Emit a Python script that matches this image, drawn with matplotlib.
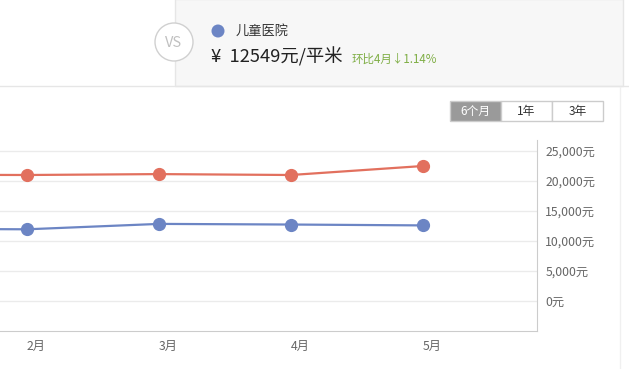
import matplotlib
matplotlib.use('Agg')
import matplotlib.pyplot as plt
from matplotlib.patches import Rectangle, Circle

plt.rcParams['font.family'] = ['Noto Sans CJK SC', 'DejaVu Sans']

# данные
months = ['1月', '2月', '3月', '4月', '5月']
red_vals = [21000, 20950, 21100, 20950, 22450]
blue_vals = [12000, 11900, 12800, 12694, 12549]
y_ticks = [0, 5000, 10000, 15000, 20000, 25000]
periods = ['6个月', '1年', '3年']

W, H = 629, 369
fig = plt.figure(figsize=(W / 100, H / 100), dpi=100)
fig.patch.set_facecolor('white')

# фоновая ось в пикселях для шапки и кнопок
bg = fig.add_axes([0, 0, 1, 1])
bg.set_xlim(0, W)
bg.set_ylim(H, 0)
bg.axis('off')

# серая шапка
bg.add_patch(Rectangle((175, -1), 448, 87, facecolor='#f7f7f7', edgecolor='#e6e6e6', lw=1))
bg.plot([0, W], [86, 86], color='#e6e6e6', lw=1)
bg.plot([620, 620], [87, H], color='#f0f0f0', lw=1)

# кружок VS
bg.add_patch(Circle((174, 42), 19, facecolor='white', edgecolor='#d0d0d0', lw=1))
bg.text(174, 43, 'VS', color='#c0c0c0', fontsize=10.5, ha='center', va='center')

# легенда синей серии
bg.add_patch(Circle((218, 31), 6.5, facecolor='#6c85c4', edgecolor='none'))
bg.text(236, 31, '儿童医院', color='#333333', fontsize=9.5, ha='left', va='center')
bg.text(211, 57, '¥  12549元/平米', color='#222222', fontsize=13.2, ha='left', va='center')
bg.text(352, 59, '环比4月↓1.14%', color='#7fae45', fontsize=8.3, ha='left', va='center')

# переключатель периода
x0 = 450
for i, p in enumerate(periods):
    w = 51
    active = i == 0
    bg.add_patch(Rectangle((x0 + i * w, 100.5), w, 20.5,
                           facecolor='#9a9a9a' if active else 'white',
                           edgecolor='#cccccc', lw=1))
    bg.text(x0 + i * w + w / 2, 111, p, color='white' if active else '#333333',
            fontsize=8.5, ha='center', va='center')

# график
top, bottom, right = 140, 330.7, 537
ax = fig.add_axes([0, 1 - bottom / H, right / W, (bottom - top) / H])
ax.set_facecolor('none')
x = list(range(len(months)))
ax.plot(x, red_vals, color='#e2705e', lw=1.6, marker='o', markersize=8.5, zorder=3)
ax.plot(x, blue_vals, color='#6c85c4', lw=1.6, marker='o', markersize=8.5, zorder=3)

ax.set_yticks(y_ticks)
ax.set_yticklabels([f'{v:,}元' for v in y_ticks])
ax.yaxis.tick_right()
ax.tick_params(axis='y', length=0, pad=6, labelsize=8.8, labelcolor='#666666')
for lbl in ax.get_yticklabels():
    lbl.set_horizontalalignment('left')
ax.grid(axis='y', color='#ebebeb', lw=1)
ax.set_axisbelow(True)

ax.set_xticks(x)
ax.set_xticklabels(months)
ax.tick_params(axis='x', length=0, pad=7, labelsize=8.8, labelcolor='#666666')
for lbl in ax.get_xticklabels():
    lbl.set_horizontalalignment('left')

# пределы после тиков, иначе set_xticks их раздвигает
ax.set_xlim(1 - 27 / 132, 1 + 510 / 132)
ax.set_ylim(-5000, 26783)

for s in ['top', 'left']:
    ax.spines[s].set_visible(False)
ax.spines['bottom'].set_color('#cccccc')
ax.spines['right'].set_color('#cccccc')

plt.savefig('out.png', dpi=100)
